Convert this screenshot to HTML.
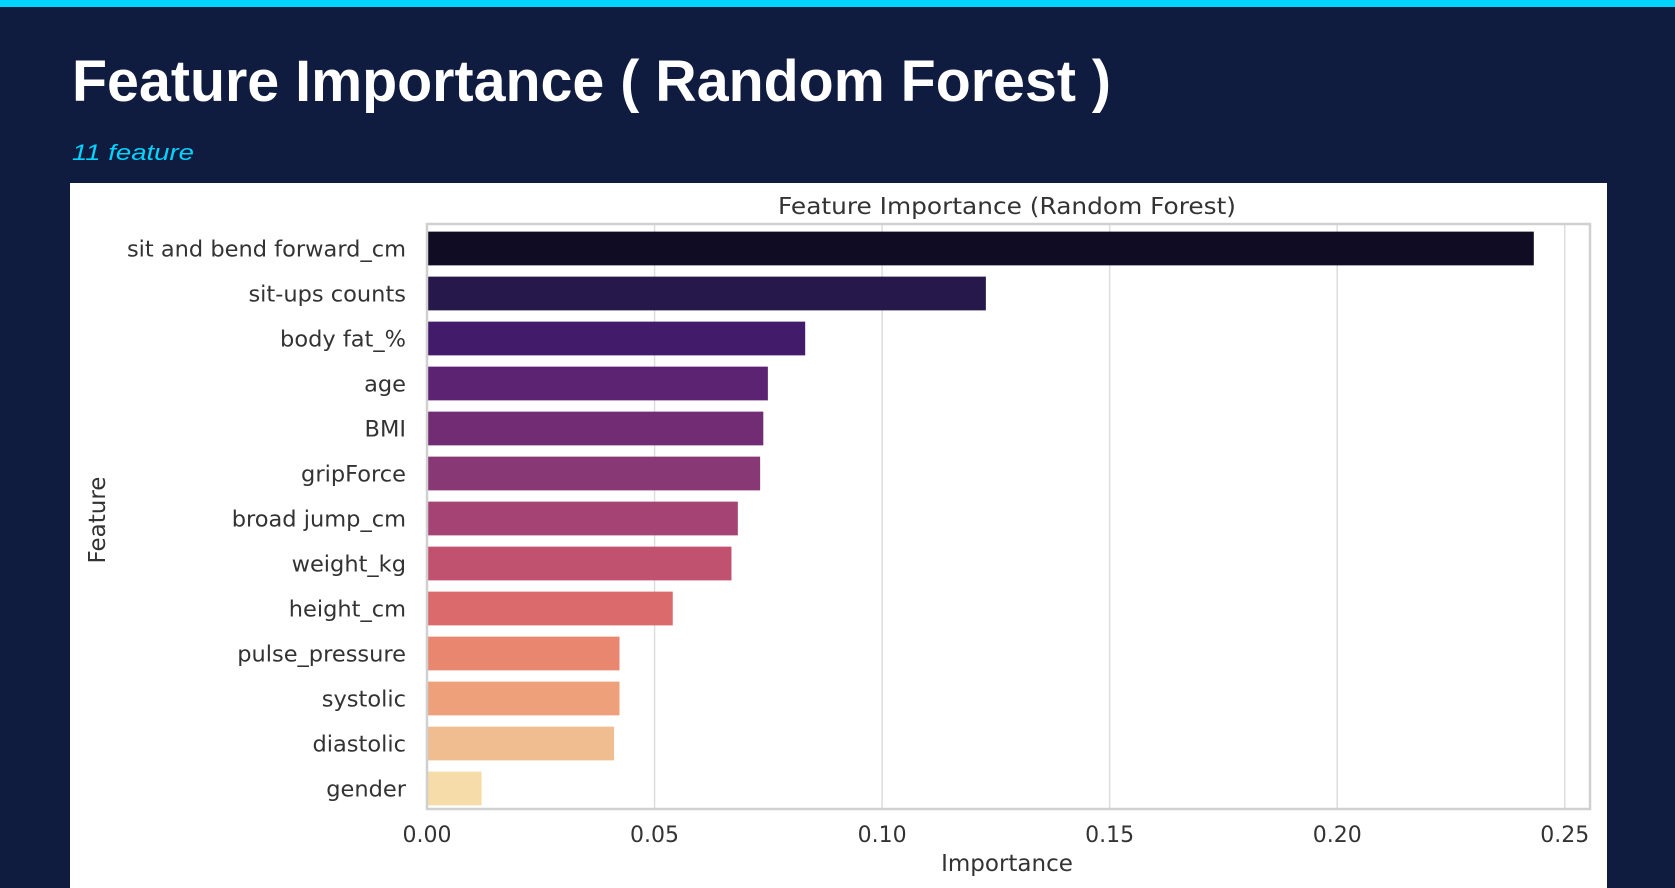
<!DOCTYPE html>
<html><head><meta charset="utf-8"><style>
html,body{margin:0;padding:0;background:#0f1c3f;}
svg{display:block;}
</style></head><body>
<svg id="root" width="1675" height="888" viewBox="0 0 1675 888" xmlns="http://www.w3.org/2000/svg">
<rect x="0" y="0" width="1675" height="888" fill="#0f1c3f"/>
<rect x="0" y="0" width="1675" height="7" fill="#00d4ff"/>
<text x="72" y="101" font-family="Liberation Sans, sans-serif" font-weight="bold" font-size="58" fill="#ffffff" textLength="1039" lengthAdjust="spacingAndGlyphs">Feature Importance ( Random Forest )</text>
<text x="72" y="160" font-family="Liberation Sans, sans-serif" font-style="italic" font-size="22" fill="#00d4ff" textLength="122" lengthAdjust="spacingAndGlyphs">11 feature</text>
<rect x="70" y="183" width="1537" height="705" fill="#ffffff"/>
<text x="1007" y="214" text-anchor="middle" font-family="DejaVu Sans, sans-serif" font-size="23" fill="#333" textLength="458" lengthAdjust="spacingAndGlyphs">Feature Importance (Random Forest)</text>
<g id="grid"></g>
<g id="bars"></g>
<g id="ylabels"></g>
<g id="xlabels"></g>
<rect x="427" y="224" width="1163" height="585" fill="none" stroke="#d0d0d0" stroke-width="2.5"/>
<text x="1007" y="871" text-anchor="middle" font-family="DejaVu Sans, sans-serif" font-size="23" fill="#333">Importance</text>
<text transform="translate(105,520) rotate(-90)" text-anchor="middle" font-family="DejaVu Sans, sans-serif" font-size="23" fill="#333">Feature</text>
</svg>
<script>
const categories = ["sit and bend forward_cm","sit-ups counts","body fat_%","age","BMI","gripForce","broad jump_cm","weight_kg","height_cm","pulse_pressure","systolic","diastolic","gender"];
const importance = [0.2432,0.1228,0.0831,0.0749,0.0739,0.0732,0.0683,0.0669,0.0540,0.0423,0.0423,0.0411,0.0120];
const barColors = ["#100c23","#26184a","#421c6a","#5c2373","#712c74","#893876","#a54474","#c05270","#da6a6b","#e8866f","#eda07a","#f0bd90","#f5dca8"];
const xTicks = [0,0.05,0.10,0.15,0.20,0.25];
const xTickLabels = ["0.00","0.05","0.10","0.15","0.20","0.25"];

const NS = "http://www.w3.org/2000/svg";
const plotL = 427, plotT = 224, plotB = 809, pxPerUnit = 4551;
const band = (plotB - plotT) / categories.length;
const xScale = v => plotL + v * pxPerUnit;
const yCenter = i => plotT + 2 + band * (i + 0.5);

const grid = document.getElementById('grid');
xTicks.forEach((t, i) => {
  const l = document.createElementNS(NS, 'line');
  l.setAttribute('x1', xScale(t)); l.setAttribute('x2', xScale(t));
  l.setAttribute('y1', plotT); l.setAttribute('y2', plotB);
  l.setAttribute('stroke', '#dddddd'); l.setAttribute('stroke-width', '1.5');
  
  
  grid.appendChild(l);
  const tx = document.createElementNS(NS, 'text');
  tx.setAttribute('x', xScale(t)); tx.setAttribute('y', 842);
  tx.setAttribute('text-anchor', 'middle');
  tx.setAttribute('font-family', 'DejaVu Sans, sans-serif');
  tx.setAttribute('font-size', '22'); tx.setAttribute('fill', '#333');
  tx.textContent = xTickLabels[i];
  
  
  document.getElementById('xlabels').appendChild(tx);
});

const bars = document.getElementById('bars');
categories.forEach((c, i) => {
  const h = band * 0.75;
  const r = document.createElementNS(NS, 'rect');
  r.setAttribute('x', plotL); r.setAttribute('y', yCenter(i) - h / 2);
  r.setAttribute('width', xScale(importance[i]) - plotL); r.setAttribute('height', h);
  r.setAttribute('fill', barColors[i]);
  
  
  bars.appendChild(r);
  const tx = document.createElementNS(NS, 'text');
  tx.setAttribute('x', 406); tx.setAttribute('y', yCenter(i) + 8);
  tx.setAttribute('text-anchor', 'end');
  tx.setAttribute('font-family', 'DejaVu Sans, sans-serif');
  tx.setAttribute('font-size', '22.5'); tx.setAttribute('fill', '#333');
  tx.textContent = c;
  
  
  document.getElementById('ylabels').appendChild(tx);
});
</script>
</body></html>
